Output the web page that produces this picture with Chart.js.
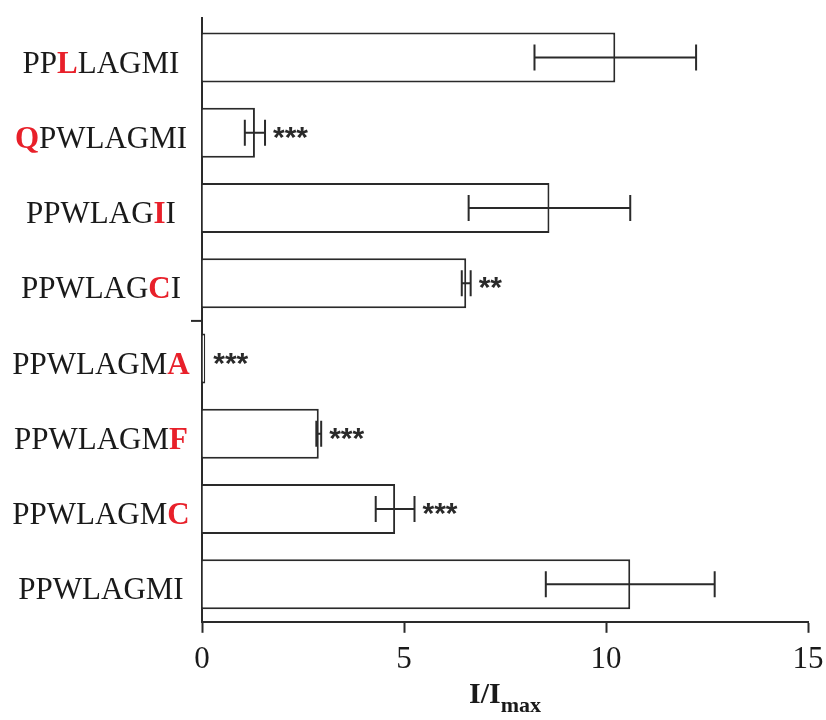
<!DOCTYPE html>
<html>
<head>
<meta charset="utf-8">
<script src="https://cdn.jsdelivr.net/npm/chart.js@4/dist/chart.umd.min.js"></script>
<style>
  html, body { margin: 0; padding: 0; background: #ffffff; }
  #wrap { width: 826px; height: 720px; }
</style>
</head>
<body>
<div id="wrap"><canvas id="c" width="826" height="720"></canvas></div>
<script>
// ---- data ----
const categories = ["PPLLAGMI", "QPWLAGMI", "PPWLAGII", "PPWLAGCI", "PPWLAGMA", "PPWLAGMF", "PPWLAGMC", "PPWLAGMI"];
const highlightIndex = [2, 0, 6, 6, 7, 7, 7, -1];
const values = [10.23, 1.31, 8.6, 6.54, 0.08, 2.89, 4.78, 10.6];
const errors = [2.0, 0.25, 2.0, 0.11, 0, 0.06, 0.48, 2.09];
const significance = ["", "***", "", "**", "***", "***", "***", ""];
const xTicks = [0, 5, 10, 15];
const xTitleMain = "I/I";
const xTitleSub = "max";

const INK = "#2a2a2a";
const SERIF = "'Liberation Serif', 'Times New Roman', serif";

const overlay = {
  id: "overlay",
  afterDatasetsDraw(chart) {
    const ctx = chart.ctx;
    const xs = chart.scales.x;
    const ys = chart.scales.y;
    const area = chart.chartArea;
    ctx.save();

    // y axis line extends a little above the plot area
    ctx.strokeStyle = INK;
    ctx.lineWidth = 2;
    ctx.beginPath();
    ctx.moveTo(area.left, area.top - 3); ctx.lineTo(area.left, area.top);
    ctx.stroke();

    // error bars
    values.forEach((v, i) => {
      const e = errors[i];
      if (!e) return;
      const y = ys.getPixelForValue(i);
      const x1 = xs.getPixelForValue(v - e);
      const x2 = xs.getPixelForValue(v + e);
      ctx.beginPath();
      ctx.moveTo(x1, y); ctx.lineTo(x2, y);
      ctx.moveTo(x1, y - 13); ctx.lineTo(x1, y + 13);
      ctx.moveTo(x2, y - 13); ctx.lineTo(x2, y + 13);
      ctx.stroke();
    });

    // significance stars
    ctx.fillStyle = INK;
    ctx.font = "bold 30px 'Liberation Sans', Arial, sans-serif";
    ctx.textAlign = "left";
    ctx.textBaseline = "alphabetic";
    significance.forEach((s, i) => {
      if (!s) return;
      const y = ys.getPixelForValue(i);
      const x = xs.getPixelForValue(values[i] + errors[i]) + 8;
      const m = ctx.measureText(s);
      const base = y + (m.actualBoundingBoxAscent - m.actualBoundingBoxDescent) / 2;
      ctx.fillText(s, x, base);
    });

    // category labels with highlighted residue
    const normalFont = "31px " + SERIF;
    const boldFont = "bold 31px " + SERIF;
    const cx = area.left / 2;
    categories.forEach((lab, i) => {
      const h = highlightIndex[i];
      const parts = [];
      for (let k = 0; k < lab.length; k++) {
        parts.push({ t: lab[k], hl: k === h });
      }
      let total = 0;
      parts.forEach(p => { ctx.font = p.hl ? boldFont : normalFont; p.w = ctx.measureText(p.t).width; total += p.w; });
      let x = cx - total / 2;
      const base = ys.getPixelForValue(i) + 15;
      parts.forEach(p => {
        ctx.font = p.hl ? boldFont : normalFont;
        ctx.fillStyle = p.hl ? "#e8202a" : "#1a1a1a";
        ctx.fillText(p.t, x, base);
        x += p.w;
      });
    });

    // small stray tick on the y axis (between 4th and 5th category)
    const yb = (ys.getPixelForValue(3) + ys.getPixelForValue(4)) / 2;
    ctx.strokeStyle = INK;
    ctx.lineWidth = 2;
    ctx.beginPath();
    ctx.moveTo(area.left - 11, yb); ctx.lineTo(area.left, yb);
    ctx.stroke();

    // x axis title with subscript
    ctx.fillStyle = "#1a1a1a";
    ctx.font = "bold 30px " + SERIF;
    const wMain = ctx.measureText(xTitleMain).width;
    ctx.font = "bold 22px " + SERIF;
    const wSub = ctx.measureText(xTitleSub).width;
    const tx = (area.left + area.right) / 2 - (wMain + wSub) / 2;
    const tb = 703;
    ctx.font = "bold 30px " + SERIF;
    ctx.fillText(xTitleMain, tx, tb);
    ctx.font = "bold 22px " + SERIF;
    ctx.fillText(xTitleSub, tx + wMain, tb + 9);

    ctx.restore();
  }
};

new Chart(document.getElementById("c"), {
  type: "bar",
  data: {
    labels: categories,
    datasets: [{
      data: values,
      backgroundColor: "#ffffff",
      borderColor: INK,
      borderWidth: 2,
      borderSkipped: "start",
      barPercentage: 0.665,
      categoryPercentage: 1.0
    }]
  },
  options: {
    indexAxis: "y",
    responsive: false,
    animation: false,
    devicePixelRatio: 1,
    layout: { padding: { left: 202, right: 18, top: 20, bottom: 34 } },
    plugins: { legend: { display: false }, tooltip: { enabled: false } },
    scales: {
      x: {
        type: "linear",
        min: 0, max: 15,
        afterBuildTicks(scale) { scale.ticks = xTicks.map(v => ({ value: v })); },
        afterFit(scale) { scale.paddingLeft = 0; scale.paddingRight = 0; },
        grid: { drawOnChartArea: false, drawTicks: true, tickLength: 11, tickColor: INK, tickWidth: 2 },
        border: { display: true, color: INK, width: 2 },
        ticks: { color: "#1a1a1a", font: { family: SERIF, size: 31 }, padding: 8, maxRotation: 0 }
      },
      y: {
        type: "category",
        offset: true,
        grid: { display: true, drawOnChartArea: false, drawTicks: false },
        border: { display: true, color: INK, width: 2 },
        ticks: { display: false }
      }
    }
  },
  plugins: [overlay]
});
</script>
</body>
</html>
